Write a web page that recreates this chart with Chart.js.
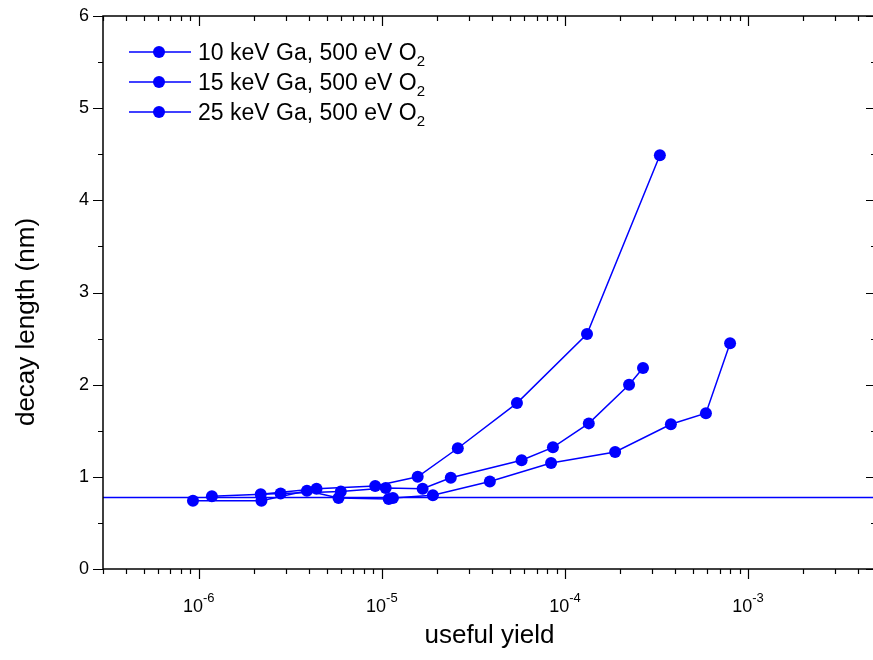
<!DOCTYPE html>
<html>
<head>
<meta charset="utf-8">
<script src="https://cdn.jsdelivr.net/npm/chart.js@4.4.1/dist/chart.umd.min.js"></script>
<style>
    html, body { margin: 0; padding: 0; background: #fff; overflow: hidden; }
    #wrap { width: 900px; height: 660px; }
</style>
</head>
<body>
<div id="wrap"><canvas id="decayChart"></canvas></div>
<script>
// Series: useful yield (x) vs decay length in nm (y)
const seriesLabels = ['10 keV Ga, 500 eV O_2', '15 keV Ga, 500 eV O_2', '25 keV Ga, 500 eV O_2'];

const yield10 = [2.18e-6, 4.4e-6, 9.2e-6, 1.57e-5, 2.60e-5, 5.47e-5, 1.32e-4, 3.30e-4];
const decay10 = [0.81, 0.87, 0.90, 1.00, 1.31, 1.80, 2.55, 4.49];

const yield15 = [1.18e-6, 2.8e-6, 5.97e-6, 1.05e-5, 1.67e-5, 2.38e-5, 5.8e-5, 8.6e-5, 1.35e-4, 2.24e-4, 2.67e-4];
const decay15 = [0.79, 0.82, 0.84, 0.88, 0.87, 0.99, 1.18, 1.32, 1.58, 2.00, 2.18];

const yield25 = [9.3e-7, 2.2e-6, 3.9e-6, 5.8e-6, 1.09e-5, 1.15e-5, 1.90e-5, 3.89e-5, 8.4e-5, 1.88e-4, 3.79e-4, 5.89e-4, 7.98e-4];
const decay25 = [0.74, 0.74, 0.85, 0.77, 0.76, 0.77, 0.80, 0.95, 1.15, 1.27, 1.57, 1.69, 2.45];

// Constant reference level across the whole range
const refYield = [3e-7, 5e-3];
const refDecay = [0.775, 0.775];

// Axis ranges and tick labels
const xMin = 3e-7, xMax = 5e-3;
const yMin = 0, yMax = 6;
const xDecades = [-6, -5, -4, -3];
const yTicks = [0, 1, 2, 3, 4, 5, 6];

const BLUE = '#0000ff';
const FONT = '"Liberation Sans", Arial, sans-serif';

const toPoints = (xs, ys) => xs.map((x, i) => ({ x: x, y: ys[i] }));

const makeSeries = (label, xs, ys) => ({
    label: label,
    data: toPoints(xs, ys),
    borderColor: BLUE,
    backgroundColor: BLUE,
    borderWidth: 1.5,
    pointRadius: 6,
    pointBorderWidth: 0,
    pointBackgroundColor: BLUE,
    tension: 0
});

// Frame, ticks, labels and legend, Origin style
const originAxes = {
    id: 'originAxes',
    afterDraw(chart) {
        const ctx = chart.ctx;
        const area = chart.chartArea;
        const xs = chart.scales.x;
        const ys = chart.scales.y;

        ctx.save();
        ctx.strokeStyle = '#000';
        ctx.fillStyle = '#000';
        ctx.lineWidth = 1.5;
        ctx.strokeRect(area.left, area.top, area.right - area.left, area.bottom - area.top);

        ctx.lineWidth = 1.2;
        ctx.beginPath();
        // x ticks: outward at bottom, inward at top
        for (let d = -7; d <= -3; d++) {
            for (let m = 1; m <= 9; m++) {
                const v = m * Math.pow(10, d);
                if (v < xMin || v > xMax) continue;
                const px = Math.round(xs.getPixelForValue(v)) + 0.5;
                const len = m === 1 ? 10 : 5;
                ctx.moveTo(px, area.bottom);
                ctx.lineTo(px, area.bottom + len);
                ctx.moveTo(px, area.top);
                ctx.lineTo(px, area.top + len);
            }
        }
        // y ticks: outward at left, inward at right
        for (let v = yMin; v <= yMax; v += 0.5) {
            const py = Math.round(ys.getPixelForValue(v)) + 0.5;
            const len = Number.isInteger(v) ? 10 : 5;
            ctx.moveTo(area.left, py);
            ctx.lineTo(area.left - len, py);
            ctx.moveTo(area.right, py);
            ctx.lineTo(area.right - len, py);
        }
        ctx.stroke();

        // y tick labels
        ctx.font = '18px ' + FONT;
        ctx.textAlign = 'right';
        ctx.textBaseline = 'middle';
        yTicks.forEach(v => {
            ctx.fillText(String(v), area.left - 14, ys.getPixelForValue(v));
        });

        // x tick labels as powers of ten
        ctx.textAlign = 'left';
        ctx.textBaseline = 'alphabetic';
        xDecades.forEach(p => {
            const px = xs.getPixelForValue(Math.pow(10, p));
            ctx.font = '18px ' + FONT;
            const wBase = ctx.measureText('10').width;
            ctx.font = '13px ' + FONT;
            const wExp = ctx.measureText(String(p)).width;
            const x0 = px - (wBase + wExp) / 2;
            ctx.font = '18px ' + FONT;
            ctx.fillText('10', x0, area.bottom + 43);
            ctx.font = '13px ' + FONT;
            ctx.fillText(String(p), x0 + wBase, area.bottom + 33);
        });

        // axis titles
        ctx.font = '26px ' + FONT;
        ctx.textAlign = 'center';
        ctx.textBaseline = 'middle';
        ctx.fillText('useful yield', (area.left + area.right) / 2, 636);
        ctx.save();
        ctx.translate(27, 322);
        ctx.rotate(-Math.PI / 2);
        ctx.fillText('decay length (nm)', 0, 0);
        ctx.restore();

        // legend: line + dot sample, label with subscript
        chart.data.datasets.forEach((ds, i) => {
            if (!ds.label) return;
            const cy = area.top + 36 + i * 30;
            const lx = area.left + 26;
            ctx.strokeStyle = BLUE;
            ctx.fillStyle = BLUE;
            ctx.lineWidth = 1.5;
            ctx.beginPath();
            ctx.moveTo(lx, cy);
            ctx.lineTo(lx + 62, cy);
            ctx.stroke();
            ctx.beginPath();
            ctx.arc(lx + 30, cy, 6, 0, Math.PI * 2);
            ctx.fill();

            const parts = ds.label.split('_');
            ctx.fillStyle = '#000';
            ctx.textAlign = 'left';
            ctx.textBaseline = 'alphabetic';
            ctx.font = '23px ' + FONT;
            ctx.fillText(parts[0], lx + 69, cy + 8);
            const w = ctx.measureText(parts[0]).width;
            if (parts[1]) {
                ctx.font = '15px ' + FONT;
                ctx.fillText(parts[1], lx + 69 + w, cy + 14);
            }
        });
        ctx.restore();
    }
};

const ctx = document.getElementById('decayChart').getContext('2d');

const decayChart = new Chart(ctx, {
    type: 'line',
    data: {
        datasets: [
            makeSeries(seriesLabels[0], yield10, decay10),
            makeSeries(seriesLabels[1], yield15, decay15),
            makeSeries(seriesLabels[2], yield25, decay25),
            {
                label: '',
                data: toPoints(refYield, refDecay),
                borderColor: BLUE,
                borderWidth: 1.5,
                pointRadius: 0,
                tension: 0
            }
        ]
    },
    options: {
        responsive: true,
        maintainAspectRatio: false,
        animation: false,
        layout: {
            padding: { left: 103, top: 16, right: 24, bottom: 91 }
        },
        plugins: {
            legend: { display: false },
            tooltip: { enabled: false }
        },
        scales: {
            x: {
                type: 'logarithmic',
                min: xMin,
                max: xMax,
                display: false
            },
            y: {
                type: 'linear',
                min: yMin,
                max: yMax,
                display: false
            }
        }
    },
    plugins: [originAxes]
});
</script>
</body>
</html>
